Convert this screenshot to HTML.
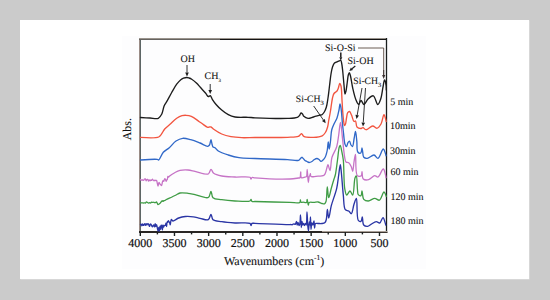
<!DOCTYPE html>
<html><head><meta charset="utf-8"><style>
html,body{margin:0;padding:0;}
body{width:550px;height:300px;background:#cbcbcb;position:relative;overflow:hidden;}
#card{position:absolute;left:20px;top:20px;width:509px;height:259px;background:#ffffff;box-shadow:0.5px 0.5px 0 #e4e4e4;}
#fig{position:absolute;left:122px;top:36px;width:304px;height:233px;background:#fdfdfe;}
svg{position:absolute;left:0;top:0;}
text{font-family:"Liberation Serif", serif;fill:#111;stroke:#111;stroke-width:0.08px;text-rendering:geometricPrecision;}
</style></head><body>
<div id="card"></div>
<div id="fig"></div>
<svg width="550" height="300" viewBox="0 0 550 300">
<rect x="139" y="38" width="1" height="195" fill="#9a8c86"/>
<rect x="140" y="38" width="1" height="195" fill="#5d6565"/>
<rect x="139" y="38" width="248" height="1" fill="#9a948c"/>
<rect x="139" y="39" width="81" height="1" fill="#666360"/>
<rect x="220" y="39" width="167" height="1" fill="#141414"/>
<line x1="386.5" y1="38" x2="386.5" y2="233" stroke="#1a1e1e" stroke-width="1.3"/>
<rect x="139" y="231" width="183" height="2" fill="#2a2624"/>
<rect x="322" y="231" width="65.5" height="1" fill="#a89e96"/>
<rect x="322" y="232" width="65.5" height="1" fill="#3a3430"/>
<line x1="140.30" y1="232" x2="140.30" y2="236" stroke="#1c2020" stroke-width="1.4"/>
<line x1="157.39" y1="232" x2="157.39" y2="234.4" stroke="#1c2020" stroke-width="1.4"/>
<line x1="174.47" y1="232" x2="174.47" y2="236" stroke="#1c2020" stroke-width="1.4"/>
<line x1="191.56" y1="232" x2="191.56" y2="234.4" stroke="#1c2020" stroke-width="1.4"/>
<line x1="208.64" y1="232" x2="208.64" y2="236" stroke="#1c2020" stroke-width="1.4"/>
<line x1="225.73" y1="232" x2="225.73" y2="234.4" stroke="#1c2020" stroke-width="1.4"/>
<line x1="242.81" y1="232" x2="242.81" y2="236" stroke="#1c2020" stroke-width="1.4"/>
<line x1="259.89" y1="232" x2="259.89" y2="234.4" stroke="#1c2020" stroke-width="1.4"/>
<line x1="276.98" y1="232" x2="276.98" y2="236" stroke="#1c2020" stroke-width="1.4"/>
<line x1="294.06" y1="232" x2="294.06" y2="234.4" stroke="#1c2020" stroke-width="1.4"/>
<line x1="311.15" y1="232" x2="311.15" y2="236" stroke="#1c2020" stroke-width="1.4"/>
<line x1="328.24" y1="232" x2="328.24" y2="234.4" stroke="#1c2020" stroke-width="1.4"/>
<line x1="345.32" y1="232" x2="345.32" y2="236" stroke="#1c2020" stroke-width="1.4"/>
<line x1="362.40" y1="232" x2="362.40" y2="234.4" stroke="#1c2020" stroke-width="1.4"/>
<line x1="379.49" y1="232" x2="379.49" y2="236" stroke="#1c2020" stroke-width="1.4"/>
<path d="M140.50,117.50 C140.51,117.50 146.94,117.86 150.00,118.00 C152.86,118.13 156.28,119.20 158.30,118.30 C159.91,117.58 160.78,115.92 161.70,114.20 C162.88,111.99 163.20,108.05 164.20,105.80 C164.94,104.13 165.75,103.35 166.70,101.70 C168.11,99.26 170.00,95.47 171.70,92.50 C173.34,89.64 175.00,86.48 176.70,84.20 C178.05,82.39 179.49,80.73 180.80,79.70 C181.73,78.96 182.53,78.57 183.50,78.20 C184.50,77.82 185.72,77.50 186.70,77.50 C187.53,77.50 188.22,77.74 189.00,78.00 C189.88,78.29 190.71,78.59 191.70,79.20 C193.17,80.10 195.22,81.88 196.70,83.30 C198.05,84.59 198.98,85.83 200.30,87.30 C201.92,89.10 204.24,91.60 205.70,93.30 C206.74,94.52 207.40,96.27 208.30,96.50 C208.95,96.67 209.71,95.49 210.30,95.70 C211.11,95.99 211.47,98.01 212.30,99.30 C213.36,100.95 214.79,102.97 216.30,104.70 C217.90,106.54 219.74,108.36 221.70,110.00 C223.73,111.70 226.00,113.52 228.30,114.70 C230.45,115.80 232.36,116.53 235.00,117.00 C238.58,117.64 244.33,117.13 248.00,117.30 C250.69,117.43 251.81,117.66 255.00,117.80 C261.87,118.11 279.83,118.76 287.50,118.40 C291.73,118.20 295.27,118.16 297.30,117.30 C298.39,116.84 298.89,116.21 299.50,115.50 C300.12,114.78 300.42,113.13 301.00,113.00 C301.45,112.90 302.06,113.53 302.50,114.00 C303.03,114.57 303.10,115.64 303.80,116.30 C304.73,117.18 306.47,118.24 308.00,118.40 C309.68,118.58 311.59,117.51 313.50,117.00 C315.58,116.45 318.45,115.61 320.00,115.20 C320.86,114.97 321.37,115.09 322.00,114.70 C322.83,114.19 323.63,113.08 324.30,112.00 C325.10,110.70 325.74,109.17 326.30,107.30 C327.06,104.76 327.49,101.30 328.00,98.00 C328.57,94.26 329.00,90.00 329.50,86.00 C330.00,82.00 330.42,77.45 331.00,74.00 C331.45,71.34 331.81,68.97 332.50,67.00 C333.05,65.44 333.61,63.87 334.50,63.00 C335.20,62.31 336.16,62.17 337.00,61.80 C337.83,61.44 338.80,61.07 339.50,60.80 C340.00,60.60 340.45,60.12 340.80,60.30 C341.37,60.59 341.51,62.56 341.80,64.00 C342.19,65.95 342.40,68.26 342.70,71.00 C343.13,74.86 343.58,80.85 344.00,85.00 C344.34,88.33 344.52,93.95 345.00,94.00 C345.28,94.03 345.70,92.29 346.00,91.00 C346.52,88.82 346.90,84.81 347.30,82.00 C347.66,79.52 347.82,76.68 348.30,75.00 C348.58,74.00 348.96,72.69 349.30,72.70 C349.70,72.71 350.10,74.53 350.50,76.00 C351.24,78.73 351.79,84.02 352.70,88.00 C353.62,92.02 354.73,97.02 356.00,100.00 C356.83,101.93 357.84,104.51 358.70,104.50 C359.50,104.49 360.14,100.55 361.00,100.50 C361.90,100.45 362.93,104.51 364.00,104.50 C365.24,104.49 366.40,100.47 368.00,99.00 C369.53,97.60 371.79,95.37 373.30,95.80 C375.20,96.34 376.46,104.49 377.80,104.50 C378.87,104.50 379.91,101.26 380.70,99.00 C381.81,95.83 382.30,90.46 383.00,87.00 C383.54,84.35 383.94,80.07 384.50,80.00 C384.81,79.96 385.23,81.08 385.50,82.00 C386.01,83.75 386.30,89.99 386.30,90.00" stroke="#1c1c1c" stroke-width="1.35" fill="none" stroke-linejoin="round" stroke-linecap="round"/>
<path d="M140.50,137.40 C140.51,137.40 155.49,138.41 158.70,137.00 C160.16,136.36 160.43,135.40 161.30,134.30 C162.43,132.87 163.31,130.63 164.70,129.00 C166.18,127.28 168.13,125.96 170.00,124.30 C172.10,122.42 174.50,119.79 176.70,118.30 C178.49,117.10 180.32,116.18 182.00,115.70 C183.39,115.30 184.58,115.24 186.00,115.30 C187.65,115.37 189.44,115.53 191.30,116.30 C193.79,117.33 197.41,120.43 199.30,121.70 C200.33,122.39 200.72,122.65 201.70,123.30 C203.25,124.33 206.24,126.99 207.70,127.30 C208.44,127.46 208.93,127.05 209.50,127.00 C210.02,126.96 210.47,126.80 211.00,127.00 C211.82,127.30 212.51,128.46 213.70,129.30 C215.62,130.66 218.85,132.77 221.70,134.00 C224.61,135.25 227.76,136.08 231.00,136.70 C234.41,137.35 237.94,137.55 241.70,137.70 C245.89,137.86 249.59,137.56 255.00,137.50 C263.45,137.41 279.58,137.65 287.50,137.30 C292.07,137.10 296.31,137.21 298.30,136.40 C299.19,136.04 299.45,135.47 300.00,135.00 C300.54,134.54 301.05,133.55 301.60,133.60 C302.31,133.67 302.61,135.75 303.80,136.40 C305.77,137.48 310.36,137.42 313.50,137.30 C316.49,137.18 320.13,136.90 322.20,135.80 C323.70,135.01 324.53,133.84 325.40,132.50 C326.39,130.98 327.04,128.98 327.60,127.00 C328.21,124.84 328.37,122.41 328.80,120.00 C329.26,117.42 329.85,114.67 330.30,112.00 C330.75,109.34 331.11,106.47 331.50,104.00 C331.84,101.85 332.04,99.84 332.50,98.00 C332.90,96.38 333.18,94.70 334.00,93.50 C334.74,92.42 336.29,91.92 337.00,91.00 C337.60,90.23 337.81,89.49 338.20,88.50 C338.74,87.13 339.26,83.54 339.80,83.50 C340.19,83.47 340.68,84.78 341.00,86.00 C341.73,88.73 341.72,95.72 342.00,100.00 C342.24,103.61 342.35,106.67 342.60,110.00 C342.85,113.34 343.12,117.17 343.50,120.00 C343.79,122.11 344.00,125.40 344.50,125.50 C344.78,125.56 345.22,124.71 345.50,124.00 C346.01,122.70 346.12,119.93 346.50,118.00 C346.86,116.17 346.96,113.77 347.70,112.70 C348.17,112.02 348.95,111.37 349.50,111.50 C350.25,111.68 350.85,113.63 351.50,115.00 C352.36,116.81 353.02,121.04 354.00,121.50 C354.47,121.72 355.08,120.77 355.50,121.00 C356.32,121.45 355.93,125.76 357.00,127.00 C357.86,127.99 359.61,128.47 360.70,128.50 C361.55,128.52 362.21,127.60 363.00,127.70 C363.96,127.82 364.78,129.65 366.00,129.70 C367.77,129.77 370.68,126.05 372.70,126.00 C374.34,125.96 375.85,128.46 377.20,128.20 C378.64,127.92 379.95,125.81 381.00,124.00 C382.38,121.62 383.08,114.70 384.00,114.70 C384.79,114.70 386.20,121.49 386.20,121.50" stroke="#f25540" stroke-width="1.35" fill="none" stroke-linejoin="round" stroke-linecap="round"/>
<path d="M140.50,160.00 C140.51,160.00 154.81,158.94 157.30,159.40 C158.05,159.54 158.19,160.17 158.70,160.00 C159.95,159.59 161.43,154.40 163.30,152.30 C165.02,150.37 167.30,149.45 169.30,147.70 C171.54,145.74 173.59,142.59 176.00,141.00 C178.10,139.61 180.33,138.55 182.70,138.30 C185.21,138.04 187.96,138.98 190.70,139.70 C193.72,140.49 197.06,141.85 200.00,143.00 C202.71,144.06 206.06,146.48 207.70,146.30 C208.55,146.21 209.01,145.70 209.50,145.00 C210.27,143.90 210.57,139.69 211.00,139.70 C211.39,139.71 211.63,142.70 212.00,144.00 C212.31,145.10 212.40,146.39 213.00,147.00 C213.49,147.50 214.30,147.26 215.00,147.70 C216.03,148.35 216.77,149.99 218.30,151.00 C220.63,152.54 224.87,153.89 228.30,155.00 C231.77,156.13 235.04,157.11 239.00,157.70 C243.77,158.41 248.73,158.24 255.00,158.50 C263.93,158.87 279.53,159.21 287.50,159.60 C292.14,159.83 296.38,161.04 298.50,160.30 C299.55,159.94 299.91,159.04 300.50,158.50 C300.98,158.06 301.37,157.32 301.80,157.30 C302.20,157.28 302.57,157.80 303.00,158.20 C303.61,158.77 304.27,159.94 305.00,160.50 C305.62,160.98 306.33,161.17 307.00,161.50 C307.67,161.83 308.25,162.45 309.00,162.50 C309.89,162.56 311.14,161.98 312.00,161.50 C312.78,161.06 313.22,160.28 314.00,159.80 C314.87,159.26 316.11,158.48 317.00,158.50 C317.74,158.52 318.36,159.06 319.00,159.50 C319.70,159.98 320.31,161.25 321.00,161.30 C321.65,161.35 322.38,160.57 323.00,160.00 C323.72,159.34 324.47,158.41 325.00,157.50 C325.54,156.58 325.84,155.62 326.20,154.50 C326.63,153.16 326.98,151.72 327.30,150.00 C327.72,147.72 327.95,142.00 328.30,142.00 C328.62,142.00 328.95,149.00 329.30,149.00 C329.68,149.00 330.13,143.88 330.50,141.00 C330.94,137.63 330.96,133.08 331.70,130.00 C332.27,127.66 333.13,125.98 334.00,124.00 C334.89,121.98 336.19,120.19 337.00,118.00 C337.90,115.57 338.48,112.48 339.00,110.00 C339.44,107.87 339.63,104.01 340.00,104.00 C340.31,103.99 340.70,106.25 341.00,108.00 C341.55,111.24 341.86,117.62 342.30,122.00 C342.69,125.89 343.05,129.32 343.50,133.00 C343.95,136.72 344.16,141.93 345.00,144.20 C345.42,145.32 346.04,146.55 346.50,146.50 C347.06,146.44 347.39,143.63 348.00,142.70 C348.44,142.03 349.06,141.11 349.50,141.20 C350.11,141.33 350.39,144.07 351.00,145.00 C351.44,145.67 352.07,146.63 352.50,146.50 C353.36,146.24 353.67,140.64 354.20,138.00 C354.66,135.69 355.10,131.49 355.50,131.50 C355.98,131.51 356.43,137.71 356.80,141.00 C357.20,144.53 356.54,150.24 357.80,152.00 C358.45,152.91 359.89,153.41 360.50,153.20 C360.99,153.03 361.16,152.19 361.40,151.50 C361.72,150.56 361.79,148.00 362.00,148.00 C362.22,148.00 362.43,150.58 362.70,152.00 C363.01,153.64 362.85,156.28 363.80,157.30 C364.58,158.14 365.97,158.42 367.30,158.30 C369.20,158.13 372.11,154.78 374.00,155.00 C375.57,155.18 376.71,158.54 378.00,158.30 C379.85,157.96 381.90,148.91 383.30,149.00 C384.45,149.08 386.00,155.69 386.00,155.70" stroke="#3068c8" stroke-width="1.35" fill="none" stroke-linejoin="round" stroke-linecap="round"/>
<path d="M140.50,179.42 C140.50,179.43 141.02,180.06 141.30,180.10 C141.56,180.13 141.84,179.70 142.10,179.71 C142.37,179.73 142.62,180.14 142.90,180.23 C143.16,180.31 143.46,180.40 143.70,180.28 C144.02,180.11 144.18,179.25 144.50,179.04 C144.74,178.89 145.07,178.80 145.30,178.93 C145.66,179.13 145.81,180.72 146.10,180.74 C146.35,180.76 146.58,179.66 146.90,179.47 C147.14,179.33 147.47,179.28 147.70,179.42 C148.05,179.62 148.21,181.07 148.50,181.09 C148.75,181.11 149.02,179.96 149.30,179.93 C149.55,179.91 149.83,180.74 150.10,180.74 C150.37,180.74 150.61,180.00 150.90,179.95 C151.15,179.90 151.46,180.37 151.70,180.31 C152.00,180.23 152.23,179.23 152.50,179.23 C152.77,179.23 153.01,180.02 153.30,180.30 C153.55,180.53 153.84,180.83 154.10,180.81 C154.38,180.78 154.62,180.08 154.90,180.05 C155.16,180.02 155.42,180.48 155.70,180.53 C155.96,180.58 156.26,180.22 156.50,180.38 C157.15,180.79 157.54,186.00 158.00,186.00 C158.36,186.00 158.58,182.56 159.00,182.50 C159.29,182.45 159.61,183.52 160.00,184.00 C160.43,184.52 161.11,185.60 161.50,185.50 C162.03,185.36 162.16,182.71 162.50,181.84 C162.70,181.32 162.88,180.68 163.10,180.65 C163.28,180.63 163.52,181.38 163.70,181.34 C163.95,181.30 164.07,180.15 164.30,179.68 C164.48,179.30 164.70,178.70 164.90,178.69 C165.10,178.69 165.32,179.21 165.50,179.57 C165.73,180.02 165.88,181.22 166.10,181.24 C166.29,181.25 166.48,180.45 166.70,180.12 C166.89,179.84 167.13,179.73 167.30,179.37 C167.60,178.72 167.60,176.45 167.90,176.38 C168.07,176.34 168.28,177.15 168.50,177.16 C168.74,177.17 168.88,176.65 169.30,176.30 C170.28,175.47 172.86,173.70 174.70,172.70 C176.43,171.76 178.00,170.87 180.00,170.40 C182.35,169.85 185.43,169.83 188.00,170.00 C190.42,170.16 192.30,170.77 195.00,171.30 C198.73,172.03 205.71,175.17 208.30,174.00 C209.94,173.26 210.07,169.33 211.00,169.30 C211.88,169.27 212.32,172.25 213.70,173.30 C215.53,174.69 218.65,175.38 221.70,176.00 C225.53,176.78 230.43,176.78 235.00,177.00 C239.85,177.23 247.99,176.13 250.00,177.30 C250.73,177.73 250.66,178.99 251.00,179.00 C251.33,179.01 251.48,177.74 252.00,177.50 C252.68,177.19 253.45,177.77 255.00,177.90 C260.28,178.33 282.31,179.33 290.00,179.00 C293.80,178.84 296.82,178.21 298.50,178.00 C299.20,177.91 299.63,178.18 300.00,177.80 C300.73,177.06 300.47,172.00 300.70,172.00 C300.93,172.00 300.42,177.09 301.40,177.80 C302.23,178.40 304.61,177.30 305.50,177.00 C305.96,176.84 306.24,176.88 306.50,176.50 C307.16,175.54 306.95,169.50 307.20,169.50 C307.54,169.50 307.89,182.49 308.30,182.50 C308.58,182.51 308.75,177.63 309.20,176.50 C309.40,175.99 309.71,175.90 309.90,175.50 C310.13,175.00 310.24,173.70 310.40,173.70 C310.60,173.71 310.34,175.99 311.00,176.50 C311.87,177.17 314.14,176.46 316.00,176.30 C318.36,176.09 322.45,176.23 324.00,175.20 C324.97,174.56 325.14,173.57 325.60,172.50 C326.19,171.12 326.55,168.92 327.00,167.50 C327.34,166.43 327.62,164.70 328.00,164.70 C328.56,164.71 329.42,170.75 330.00,170.70 C330.85,170.63 330.80,161.43 332.00,157.30 C333.11,153.48 335.58,150.39 336.70,146.70 C337.83,142.96 338.08,138.97 338.70,135.00 C339.34,130.91 339.89,122.49 340.50,122.50 C341.23,122.51 341.99,134.60 342.70,140.50 C343.39,146.20 343.94,153.45 344.70,157.30 C345.11,159.37 345.14,161.15 346.00,162.00 C346.65,162.64 347.90,162.13 348.70,162.70 C349.74,163.45 350.63,165.27 351.30,166.70 C351.97,168.14 352.30,171.33 352.70,171.30 C353.26,171.26 353.51,164.95 354.00,162.00 C354.45,159.31 355.05,154.28 355.50,154.30 C356.24,154.34 354.96,173.55 357.30,175.70 C358.31,176.63 360.52,176.36 361.30,175.70 C362.09,175.04 361.73,171.70 362.00,171.70 C362.37,171.70 361.97,177.73 363.30,179.00 C364.44,180.09 366.93,180.11 368.70,179.70 C370.74,179.22 372.95,175.89 374.70,175.70 C375.92,175.57 376.91,177.34 378.00,177.00 C379.79,176.44 381.96,168.81 383.30,169.00 C384.61,169.19 386.00,177.69 386.00,177.70" stroke="#c673c6" stroke-width="1.3" fill="none" stroke-linejoin="round" stroke-linecap="round"/>
<path d="M140.50,202.65 C140.50,202.65 141.17,202.76 141.50,202.79 C141.83,202.82 142.17,202.81 142.50,202.85 C142.83,202.89 143.17,203.04 143.50,203.03 C143.83,203.02 144.17,202.79 144.50,202.79 C144.83,202.78 145.19,203.10 145.50,203.01 C145.87,202.89 146.14,202.00 146.50,201.93 C146.81,201.88 147.17,202.28 147.50,202.46 C147.84,202.64 148.16,203.00 148.50,203.03 C148.83,203.06 149.17,202.69 149.50,202.68 C149.83,202.67 150.19,203.06 150.50,202.98 C150.86,202.90 151.14,202.10 151.50,202.04 C151.82,201.98 152.16,202.44 152.50,202.46 C152.83,202.49 153.17,202.18 153.50,202.20 C153.84,202.21 154.16,202.49 154.50,202.55 C154.83,202.62 155.18,202.68 155.50,202.59 C155.85,202.49 156.17,201.84 156.50,201.92 C157.02,202.04 157.47,204.45 158.00,204.60 C158.32,204.69 158.68,204.20 159.00,204.03 C159.28,203.88 159.55,203.82 159.80,203.61 C160.10,203.36 160.32,202.87 160.60,202.54 C160.86,202.23 161.14,201.97 161.40,201.67 C161.67,201.37 161.92,200.75 162.20,200.73 C162.46,200.72 162.74,201.47 163.00,201.46 C163.27,201.45 163.51,200.76 163.80,200.65 C164.05,200.55 164.31,200.78 164.60,200.70 C165.02,200.59 165.35,200.16 166.00,199.80 C167.29,199.09 170.21,197.87 172.00,197.00 C173.47,196.29 174.67,195.67 176.00,195.00 C177.33,194.33 178.38,193.35 180.00,193.00 C182.16,192.53 185.43,193.00 188.00,193.30 C190.42,193.59 192.30,194.15 195.00,194.70 C198.73,195.47 205.72,198.83 208.30,197.50 C210.12,196.56 210.22,191.26 211.00,191.30 C211.78,191.34 211.48,196.29 213.00,197.70 C214.76,199.33 218.47,199.17 221.70,199.70 C225.65,200.34 230.43,200.78 235.00,201.00 C239.84,201.24 248.00,202.07 250.00,201.00 C250.69,200.63 250.68,199.48 251.00,199.50 C251.35,199.52 251.42,201.14 252.00,201.50 C252.67,201.91 253.45,201.48 255.00,201.50 C260.28,201.57 281.93,202.30 290.00,202.40 C294.27,202.45 298.44,203.46 299.80,202.40 C300.48,201.87 300.20,200.00 300.40,200.00 C300.60,200.00 300.53,201.95 301.00,202.30 C301.44,202.62 302.24,202.19 303.00,202.20 C304.01,202.22 305.81,203.00 306.50,202.50 C307.15,202.03 306.95,199.50 307.20,199.50 C307.54,199.51 307.90,205.17 308.30,205.20 C308.58,205.22 308.49,203.02 309.20,202.50 C310.12,201.83 312.47,202.49 314.00,202.40 C315.40,202.32 316.69,201.83 318.00,202.00 C319.35,202.18 320.81,203.21 322.00,203.50 C322.92,203.72 323.84,204.11 324.50,203.80 C325.19,203.48 325.59,202.67 326.00,201.50 C326.93,198.81 326.81,187.01 327.30,187.00 C327.72,186.99 328.01,197.65 328.70,197.70 C329.36,197.75 330.42,191.42 331.30,188.30 C332.18,185.19 333.25,181.45 334.00,179.00 C334.50,177.38 334.88,176.78 335.30,175.00 C336.09,171.62 336.81,164.82 337.50,160.00 C338.14,155.51 338.51,149.26 339.30,147.00 C339.61,146.12 340.00,145.26 340.30,145.30 C340.77,145.37 341.09,148.13 341.50,150.00 C342.09,152.70 342.82,155.80 343.30,160.00 C344.10,167.01 343.65,182.17 344.70,188.30 C345.22,191.35 345.71,194.80 346.70,195.00 C347.56,195.17 348.99,190.95 350.00,191.00 C350.98,191.05 351.97,195.17 352.70,195.00 C354.07,194.68 353.95,180.84 355.00,178.00 C355.39,176.94 355.95,175.91 356.30,176.00 C357.16,176.22 357.06,186.58 357.50,190.00 C357.75,191.99 357.53,193.80 358.30,194.70 C358.90,195.40 360.38,195.95 361.00,195.60 C361.80,195.15 361.62,191.00 362.00,191.00 C362.51,191.00 362.41,197.68 363.80,199.30 C364.85,200.52 366.67,201.03 368.30,201.00 C370.27,200.97 372.82,198.30 374.80,198.30 C376.47,198.30 378.04,200.67 379.40,200.20 C381.27,199.55 382.75,191.98 384.00,192.00 C384.92,192.02 386.30,196.49 386.30,196.50" stroke="#3f9c45" stroke-width="1.3" fill="none" stroke-linejoin="round" stroke-linecap="round"/>
<path d="M140.50,224.70 C140.50,224.70 141.00,224.06 141.20,224.11 C141.49,224.18 141.67,225.82 141.90,225.81 C142.14,225.81 142.35,223.86 142.60,223.85 C142.82,223.84 143.02,225.36 143.30,225.42 C143.51,225.47 143.78,225.08 144.00,224.84 C144.26,224.56 144.48,223.78 144.70,223.80 C144.95,223.82 145.17,225.33 145.40,225.33 C145.64,225.32 145.86,223.74 146.10,223.73 C146.33,223.72 146.56,225.07 146.80,225.07 C147.03,225.08 147.21,223.99 147.50,223.84 C147.70,223.73 147.99,223.78 148.20,223.91 C148.48,224.09 148.67,224.64 148.90,225.04 C149.14,225.47 149.39,226.43 149.60,226.41 C149.87,226.39 149.95,224.18 150.30,224.02 C150.50,223.93 150.79,224.16 151.00,224.36 C151.29,224.64 151.46,225.31 151.70,225.73 C151.92,226.12 152.17,226.83 152.40,226.82 C152.64,226.81 152.84,225.89 153.10,225.56 C153.31,225.30 153.60,224.90 153.80,224.95 C154.10,225.03 154.29,226.93 154.50,226.92 C154.76,226.90 154.96,223.76 155.20,223.76 C155.43,223.75 155.64,226.51 155.90,226.52 C156.12,226.53 156.36,224.57 156.60,224.58 C157.03,224.61 157.60,231.00 158.00,231.00 C158.30,231.00 158.57,227.35 158.80,227.36 C159.04,227.37 159.21,231.44 159.40,231.43 C159.62,231.43 159.77,226.09 160.00,226.08 C160.18,226.07 160.41,229.21 160.60,229.21 C160.81,229.20 160.84,225.26 161.20,225.15 C161.37,225.10 161.63,225.44 161.80,225.78 C162.16,226.53 162.21,229.95 162.40,229.95 C162.61,229.95 162.74,224.89 163.00,224.87 C163.17,224.86 163.38,227.11 163.60,227.12 C163.78,227.14 163.94,225.99 164.20,225.69 C164.37,225.48 164.59,225.39 164.80,225.31 C164.99,225.24 165.23,225.37 165.40,225.22 C165.72,224.94 165.82,223.05 166.00,223.06 C166.23,223.07 166.41,226.56 166.60,226.55 C166.82,226.55 166.79,221.92 167.20,221.76 C167.37,221.70 167.63,222.34 167.80,222.29 C168.06,222.23 168.18,220.68 168.40,220.67 C168.59,220.65 168.77,221.52 169.00,221.81 C169.18,222.03 169.43,222.03 169.60,222.31 C169.91,222.82 170.01,224.94 170.20,224.94 C170.42,224.93 170.56,222.44 170.80,221.46 C170.98,220.71 171.13,219.60 171.40,219.52 C171.57,219.48 171.78,219.85 172.00,220.05 C172.29,220.32 172.49,220.93 173.00,221.00 C174.09,221.15 176.68,218.75 178.70,218.00 C180.77,217.23 182.98,216.72 185.30,216.50 C187.82,216.26 190.77,216.47 193.30,216.80 C195.65,217.10 197.64,217.84 200.00,218.30 C202.61,218.81 206.46,220.64 208.30,219.70 C209.86,218.91 210.21,214.26 211.00,214.30 C211.77,214.34 211.59,218.46 213.00,219.70 C214.75,221.24 218.47,221.17 221.70,221.70 C225.65,222.34 230.43,222.72 235.00,223.00 C239.84,223.30 247.98,222.09 250.00,223.40 C250.80,223.92 250.67,225.50 251.00,225.50 C251.33,225.50 251.41,223.77 252.00,223.40 C252.67,222.98 253.45,223.37 255.00,223.40 C260.28,223.49 287.51,224.88 290.00,224.60 C290.30,224.57 290.31,224.47 290.50,224.47 C290.76,224.47 291.10,224.65 291.40,224.69 C291.70,224.73 292.01,224.79 292.30,224.70 C292.62,224.60 292.88,224.20 293.20,224.07 C293.49,223.95 293.81,223.87 294.10,223.91 C294.41,223.96 294.75,224.37 295.00,224.35 C295.20,224.33 295.34,224.21 295.50,224.00 C295.84,223.57 296.23,221.47 296.50,221.50 C296.81,221.53 296.92,224.98 297.20,225.00 C297.44,225.01 297.72,222.50 298.00,222.50 C298.31,222.50 298.65,225.47 299.00,225.50 C299.26,225.52 299.58,224.74 299.80,224.00 C300.30,222.29 300.27,215.00 300.50,215.00 C300.77,215.00 300.99,227.49 301.30,227.50 C301.51,227.51 301.70,221.52 302.00,221.50 C302.23,221.49 302.49,224.97 302.80,225.00 C303.01,225.02 303.24,223.50 303.50,223.50 C303.80,223.50 304.17,225.50 304.50,225.50 C304.83,225.50 305.18,223.50 305.50,223.50 C305.78,223.50 306.08,225.05 306.30,225.00 C306.90,224.87 306.76,212.00 307.00,212.00 C307.25,212.00 307.46,222.51 307.80,226.00 C308.01,228.09 308.28,231.01 308.50,231.00 C308.79,230.99 308.95,222.02 309.30,222.00 C309.50,221.99 309.82,225.02 310.00,225.00 C310.30,224.98 310.35,217.00 310.50,217.00 C310.69,217.00 310.72,229.49 311.00,229.50 C311.21,229.51 311.34,223.08 311.80,223.00 C312.07,222.95 312.51,225.02 312.80,225.00 C313.08,224.98 313.30,223.67 313.50,223.00 C313.70,222.34 313.85,220.99 314.00,221.00 C314.27,221.02 314.31,227.98 314.60,228.00 C314.84,228.01 314.72,224.14 315.50,223.50 C316.07,223.03 317.07,223.50 318.00,223.50 C319.18,223.50 320.78,223.70 322.00,223.50 C323.09,223.32 324.28,223.16 325.00,222.50 C325.73,221.83 325.95,220.83 326.30,219.50 C326.92,217.17 326.98,209.51 327.40,209.50 C327.79,209.49 328.14,217.98 328.70,218.00 C329.38,218.02 330.15,210.13 331.30,205.70 C332.69,200.37 335.45,193.76 336.70,188.30 C337.77,183.61 338.07,179.15 338.70,175.00 C339.26,171.35 339.84,164.70 340.30,164.70 C340.69,164.70 340.95,168.88 341.30,172.00 C341.92,177.52 342.54,188.20 343.30,195.00 C343.91,200.45 343.55,207.49 345.30,209.70 C346.17,210.79 347.71,210.34 348.70,211.00 C349.71,211.67 350.55,213.89 351.30,213.70 C352.51,213.40 353.05,207.06 354.00,204.30 C354.77,202.05 355.76,198.21 356.40,198.30 C357.58,198.48 356.28,217.84 358.30,220.40 C359.02,221.32 360.35,221.64 361.00,221.30 C361.82,220.87 361.90,216.98 362.30,217.00 C362.83,217.03 362.43,223.53 363.70,225.00 C364.62,226.06 366.46,226.44 367.70,226.30 C368.89,226.16 369.75,224.98 371.00,224.30 C372.54,223.46 374.71,221.77 376.30,221.70 C377.55,221.64 378.69,223.34 379.70,223.00 C381.02,222.56 382.04,217.60 383.00,217.70 C384.07,217.81 385.70,224.99 385.70,225.00" stroke="#2a35a5" stroke-width="1.35" fill="none" stroke-linejoin="round" stroke-linecap="round"/>
<line x1="187" y1="65" x2="187.00" y2="72.50" stroke="#1c1c1c" stroke-width="0.9"/><polygon points="187,76.5 185.20,72.50 188.80,72.50" fill="#1c1c1c"/>
<line x1="210.2" y1="84" x2="210.20" y2="90.00" stroke="#1c1c1c" stroke-width="0.9"/><polygon points="210.2,94 208.40,90.00 212.00,90.00" fill="#1c1c1c"/>
<line x1="313.7" y1="106" x2="323.42" y2="120.01" stroke="#1c1c1c" stroke-width="0.9"/><polygon points="325.7,123.3 321.94,121.04 324.90,118.99" fill="#1c1c1c"/>
<line x1="340.8" y1="52.5" x2="340.80" y2="57.30" stroke="#1c1c1c" stroke-width="1.5"/><polygon points="340.8,60.5 339.30,57.30 342.30,57.30" fill="#1c1c1c"/>
<line x1="355.3" y1="66" x2="351.99" y2="68.76" stroke="#1c1c1c" stroke-width="1.2"/><polygon points="349.3,71 350.96,67.53 353.01,69.99" fill="#1c1c1c"/>
<line x1="362" y1="88" x2="357.20" y2="115.06" stroke="#1c1c1c" stroke-width="0.9"/><polygon points="356.5,119 355.43,114.75 358.97,115.38" fill="#1c1c1c"/>
<line x1="365.5" y1="88" x2="363.26" y2="122.51" stroke="#1c1c1c" stroke-width="0.9"/><polygon points="363,126.5 361.46,122.39 365.06,122.63" fill="#1c1c1c"/>
<polyline points="358,48 383.7,48 383.7,75" fill="none" stroke="#5a4a42" stroke-width="0.9"/><line x1="383.7" y1="70" x2="383.70" y2="75.00" stroke="#3a3030" stroke-width="0.9"/><polygon points="383.7,79 382.10,75.00 385.30,75.00" fill="#3a3030"/>
<text x="140.30" y="247.4" text-anchor="middle" font-size="12" style="stroke-width:0.2px">4000</text>
<text x="174.47" y="247.4" text-anchor="middle" font-size="12" style="stroke-width:0.2px">3500</text>
<text x="208.64" y="247.4" text-anchor="middle" font-size="12" style="stroke-width:0.2px">3000</text>
<text x="242.81" y="247.4" text-anchor="middle" font-size="12" style="stroke-width:0.2px">2500</text>
<text x="276.98" y="247.4" text-anchor="middle" font-size="12" style="stroke-width:0.2px">2000</text>
<text x="311.15" y="247.4" text-anchor="middle" font-size="12" style="stroke-width:0.2px">1500</text>
<text x="345.32" y="247.4" text-anchor="middle" font-size="12" style="stroke-width:0.2px">1000</text>
<text x="379.49" y="247.4" text-anchor="middle" font-size="12" style="stroke-width:0.2px">500</text>
<text x="224" y="264.7" font-size="12" style="stroke-width:0.1px">Wavenumbers (cm<tspan font-size="7.5" dy="-4.5">-1</tspan><tspan dy="4.5" font-size="12">)</tspan></text>
<text transform="translate(131.4,140.3) rotate(-90)" font-size="12" style="stroke-width:0.1px">Abs.</text>
<text x="180.5" y="62.4" font-size="10">OH</text>
<text x="204.5" y="79" font-size="10">CH<tspan font-size="5" dy="2.5">3</tspan></text>
<text x="295.8" y="102" font-size="9.7">Si-CH<tspan font-size="6.5" dy="3">3</tspan></text>
<text x="325" y="50.7" font-size="10">Si-O-Si</text>
<text x="347.5" y="64.3" font-size="10">Si-OH</text>
<text x="353.3" y="84" font-size="9.7">Si-CH<tspan font-size="6.5" dy="3">3</tspan></text>
<text x="390.3" y="105" font-size="10">5 min</text>
<text x="390" y="128.7" font-size="10">10min</text>
<text x="390" y="153.5" font-size="10">30min</text>
<text x="390.5" y="175.4" font-size="10">60 min</text>
<text x="390.5" y="200.3" font-size="10">120 min</text>
<text x="390.5" y="224.3" font-size="10">180 min</text>
</svg>
</body></html>
